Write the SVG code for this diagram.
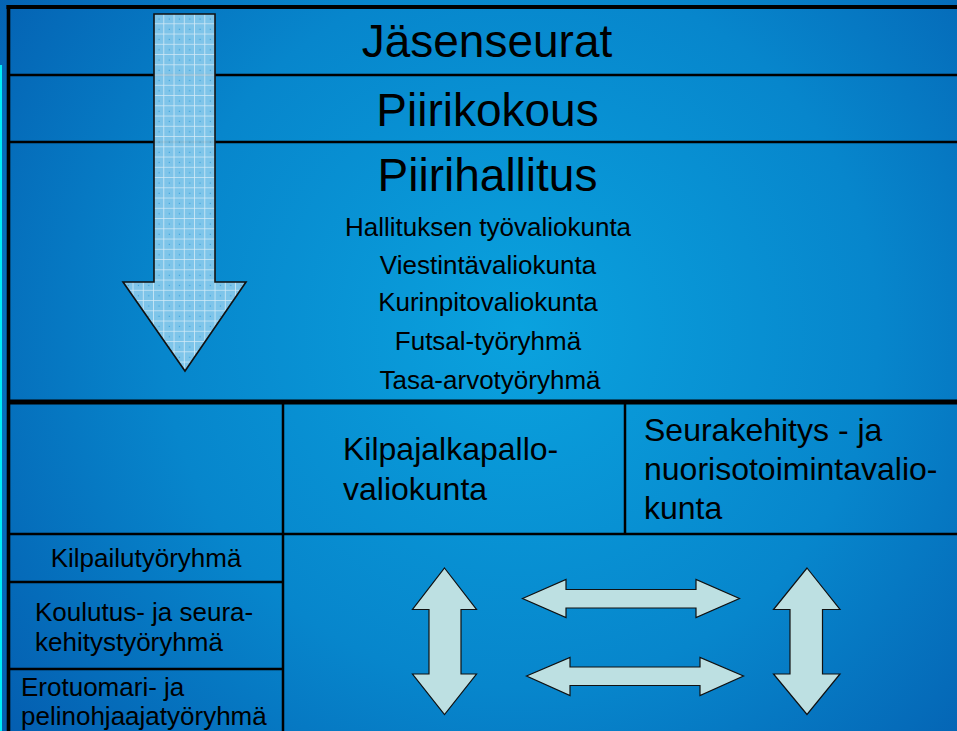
<svg xmlns="http://www.w3.org/2000/svg" width="957" height="731" viewBox="0 0 957 731">
  <defs>
    <radialGradient id="bg" cx="520" cy="330" r="650" gradientUnits="userSpaceOnUse">
      <stop offset="0" stop-color="#0aa2de"/>
      <stop offset="0.55" stop-color="#0786cc"/>
      <stop offset="1" stop-color="#045eb0"/>
    </radialGradient>
    <pattern id="grid" x="154" y="14" width="10.25" height="10.25" patternUnits="userSpaceOnUse">
      <rect width="10.25" height="10.25" fill="#88caec"/>
      <path d="M10 0V10.25M0 10H10.25" stroke="#e6f4fb" stroke-width="1"/>
      <rect x="4.5" y="4.5" width="1" height="1" fill="#2a9ad8"/>
    </pattern>
    <style>
      .ln{stroke:#000;fill:none}
      .t{font-family:"Liberation Sans",Arial,sans-serif;fill:#000}
      .big{font-size:46px;text-anchor:middle}
      .sm{font-size:26px}
      .mid{font-size:32px}
      .c{text-anchor:middle}
      .blk{fill:#bde0e2;stroke:#111;stroke-width:1.2;stroke-linejoin:miter}
    </style>
  </defs>

  <rect width="957" height="731" fill="url(#bg)"/>
  <rect x="0" y="65" width="2" height="666" fill="#00eef8"/>

  <g id="grid-lines">
    <line class="ln" x1="6.5" y1="7" x2="957" y2="7" stroke-width="4"/>
    <line class="ln" x1="8.5" y1="5" x2="8.5" y2="731" stroke-width="3.6"/>
    <line class="ln" x1="8" y1="75" x2="957" y2="75" stroke-width="2.5"/>
    <line class="ln" x1="8" y1="142" x2="957" y2="142" stroke-width="2.5"/>
    <line class="ln" x1="8" y1="402" x2="957" y2="402" stroke-width="5"/>
    <line class="ln" x1="283" y1="402" x2="283" y2="731" stroke-width="2.5"/>
    <line class="ln" x1="625" y1="402" x2="625" y2="534" stroke-width="2.5"/>
    <line class="ln" x1="8" y1="534" x2="957" y2="534" stroke-width="2.5"/>
    <line class="ln" x1="8" y1="582" x2="283" y2="582" stroke-width="2.5"/>
    <line class="ln" x1="8" y1="669" x2="283" y2="669" stroke-width="2.5"/>
  </g>

  <g id="node-jasenseurat"><text class="t big" x="487" y="57">Jäsenseurat</text></g>
  <g id="node-piirikokous"><text class="t big" x="487.5" y="126">Piirikokous</text></g>
  <g id="node-piirihallitus">
    <text class="t big" x="487.5" y="191">Piirihallitus</text>
    <text class="t sm c" x="488" y="236">Hallituksen työvaliokunta</text>
    <text class="t sm c" x="488" y="273.5">Viestintävaliokunta</text>
    <text class="t sm c" x="488" y="311">Kurinpitovaliokunta</text>
    <text class="t sm c" x="488" y="350">Futsal-työryhmä</text>
    <text class="t sm c" x="490" y="388.5">Tasa-arvotyöryhmä</text>
  </g>
  <g id="node-kilpajalkapallo">
    <text class="t mid" x="343" y="459.5">Kilpajalkapallo-</text>
    <text class="t mid" x="343" y="499.5">valiokunta</text>
  </g>
  <g id="node-seurakehitys">
    <text class="t mid" x="644" y="441">Seurakehitys - ja</text>
    <text class="t mid" x="644" y="480">nuorisotoimintavalio-</text>
    <text class="t mid" x="644" y="518.5">kunta</text>
  </g>
  <g id="node-kilpailu"><text class="t sm c" x="146" y="567">Kilpailutyöryhmä</text></g>
  <g id="node-koulutus">
    <text class="t sm" x="35" y="620.5">Koulutus- ja seura-</text>
    <text class="t sm" x="35" y="650.5">kehitystyöryhmä</text>
  </g>
  <g id="node-erotuomari">
    <text class="t sm" x="21" y="695.5">Erotuomari- ja</text>
    <text class="t sm" x="21" y="725">pelinohjaajatyöryhmä</text>
  </g>

  <g id="connectors">
    <polygon points="154,14 215,14 215,282 246,282 185,371 123,282 154,282" fill="url(#grid)" fill-opacity="0.92" stroke="#111" stroke-width="1.6"/>
    <polygon class="blk" points="444.5,568 476.5,609.5 461,609.5 461,674 476.5,674 444.5,714.5 412.5,674 429,674 429,609.5 412.5,609.5"/>
    <polygon class="blk" points="807,568 840,609.5 822.5,609.5 822.5,674 840,674 807,714.5 773.5,674 790,674 790,609.5 773.5,609.5"/>
    <polygon class="blk" points="522.5,598.5 566,579.5 566,589.5 696,589.5 696,579.5 739.5,598.5 696,617.5 696,608 566,608 566,617.5"/>
    <polygon class="blk" points="526.5,676 570,657.5 570,667 700,667 700,657.5 743.5,676 700,695.5 700,685.5 570,685.5 570,695.5"/>
  </g>
</svg>
